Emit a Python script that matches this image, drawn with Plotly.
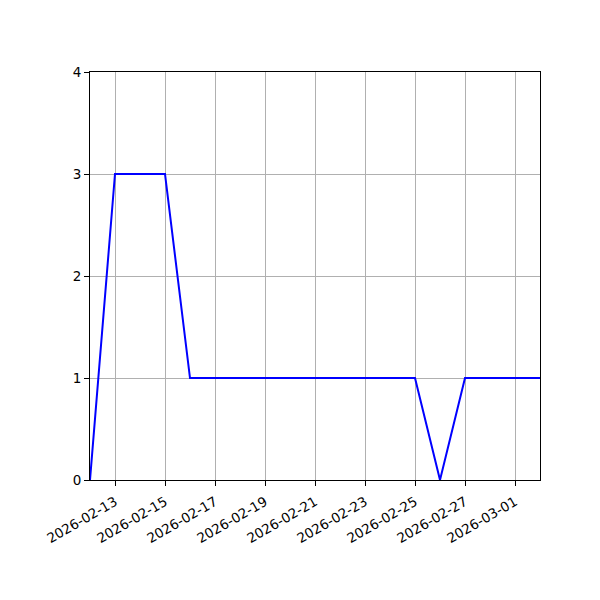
import plotly.graph_objects as go

dates = ["2026-02-12", "2026-02-13", "2026-02-14", "2026-02-15", "2026-02-16",
         "2026-02-17", "2026-02-18", "2026-02-19", "2026-02-20", "2026-02-21",
         "2026-02-22", "2026-02-23", "2026-02-24", "2026-02-25", "2026-02-26",
         "2026-02-27", "2026-02-28", "2026-03-01", "2026-03-02"]
counts = [0, 3, 3, 3, 1, 1, 1, 1, 1, 1, 1, 1, 1, 1, 0, 1, 1, 1, 1]
tick_dates = ["2026-02-13", "2026-02-15", "2026-02-17", "2026-02-19", "2026-02-21",
              "2026-02-23", "2026-02-25", "2026-02-27", "2026-03-01"]
y_ticks = [0, 1, 2, 3, 4]

fig = go.Figure()
fig.add_trace(go.Scatter(x=dates, y=counts, mode="lines",
                         line=dict(color="blue", width=2)))

axis_common = dict(showline=True, linecolor="black", linewidth=1, mirror=True,
                   showgrid=True, gridcolor="#b0b0b0", gridwidth=1,
                   ticks="outside", ticklen=5, tickcolor="black", automargin=False,
                   zeroline=False, tickfont=dict(family="DejaVu Sans", size=13.5, color="black"))

# page body adds an 8px offset, so margins are shifted to keep the plot box at 90..540 / 72..480
fig.update_layout(
    width=600, height=600,
    margin=dict(l=82, r=68, t=64, b=128),
    paper_bgcolor="white", plot_bgcolor="white",
    showlegend=False,
    xaxis=dict(range=[dates[0], dates[-1]], tickvals=tick_dates, ticktext=tick_dates,
               tickangle=-30, ticklabelstandoff=3, **axis_common),
    yaxis=dict(range=[0, 4], tickvals=y_ticks, **axis_common),
)

fig.write_html("out.html")
